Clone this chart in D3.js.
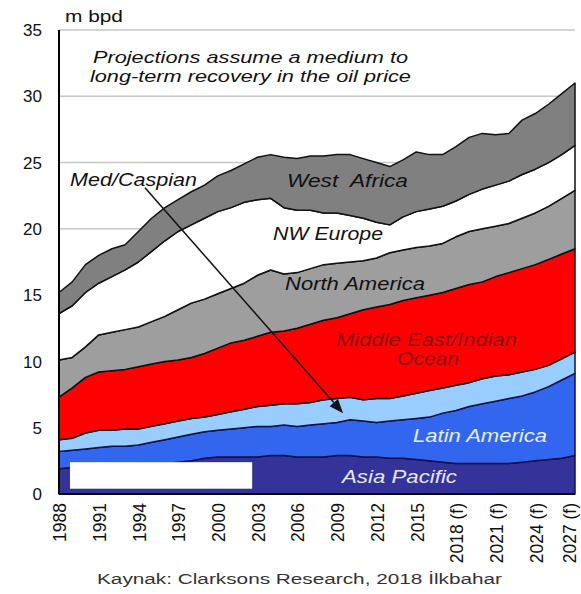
<!DOCTYPE html>
<html>
<head>
<meta charset="utf-8">
<script src="https://cdn.jsdelivr.net/npm/d3@7"></script>
<style>
  html, body { margin: 0; padding: 0; background: #fff; }
  svg { display: block; }
  text { font-family: "Liberation Sans", Arial, sans-serif; }
</style>
</head>
<body>
<svg id="chart" width="581" height="594"></svg>
<script>
// Seaborne oil production by region, million barrels per day (stacked, bottom to top)
const years = [1988,1989,1990,1991,1992,1993,1994,1995,1996,1997,
               1998,1999,2000,2001,2002,2003,2004,2005,2006,2007,
               2008,2009,2010,2011,2012,2013,2014,2015,2016,2017,
               2018,2019,2020,2021,2022,2023,2024,2025,2026,2027];

const asiaPacific  = [1.9,2.0,2.1,2.2,2.2,2.2,2.3,2.3,2.3,2.4, 2.5,2.7,2.8,2.8,2.8,2.8,2.9,2.9,2.8,2.8, 2.8,2.9,2.9,2.8,2.8,2.7,2.7,2.6,2.5,2.4, 2.3,2.3,2.3,2.3,2.3,2.4,2.5,2.6,2.7,2.9];
const latinAmerica = [1.3,1.3,1.3,1.3,1.4,1.4,1.4,1.6,1.8,1.9, 2.0,2.0,2.0,2.1,2.2,2.3,2.2,2.3,2.3,2.4, 2.5,2.5,2.7,2.7,2.6,2.8,2.9,3.1,3.3,3.7, 4.0,4.3,4.5,4.7,4.9,5.0,5.2,5.5,5.9,6.2];
const medCaspian   = [0.9,0.9,1.2,1.3,1.2,1.3,1.2,1.2,1.2,1.2, 1.2,1.1,1.2,1.3,1.4,1.5,1.6,1.6,1.7,1.7, 1.8,1.8,1.7,1.6,1.8,1.7,1.8,1.9,2.0,1.9, 1.9,1.8,1.9,1.9,1.8,1.8,1.7,1.6,1.6,1.6];
const middleEast   = [3.2,3.8,4.2,4.4,4.5,4.5,4.7,4.7,4.7,4.6, 4.6,4.8,5.0,5.2,5.2,5.3,5.5,5.5,5.7,5.9, 6.0,6.1,6.3,6.8,6.9,7.1,7.2,7.2,7.2,7.2, 7.3,7.4,7.3,7.5,7.7,7.8,7.9,8.0,7.9,7.8];
const northAmerica = [2.8,2.3,2.3,2.8,2.9,3.0,3.0,3.2,3.4,3.8, 4.1,4.1,4.1,4.1,4.3,4.6,4.7,4.3,4.2,4.2, 4.2,4.1,3.9,3.7,3.7,3.9,3.8,3.8,3.7,3.7, 3.9,4.0,4.0,3.8,3.7,3.8,3.9,4.0,4.2,4.4];
const nwEurope     = [3.5,3.9,4.1,3.9,4.2,4.5,4.9,5.3,5.7,5.9, 5.9,6.1,6.2,6.1,6.1,5.7,5.4,5.0,4.7,4.4, 3.9,3.8,3.5,3.2,2.7,2.1,2.5,2.7,2.8,2.8, 2.7,2.8,3.0,3.1,3.2,3.3,3.3,3.3,3.3,3.4];
const westAfrica   = [1.6,1.8,2.1,2.1,2.1,1.9,2.3,2.5,2.5,2.4, 2.5,2.5,2.7,2.8,2.9,3.2,3.3,3.8,3.9,4.1, 4.3,4.4,4.6,4.5,4.5,4.4,4.3,4.5,4.1,3.9, 4.1,4.3,4.2,3.8,3.6,4.1,4.2,4.4,4.6,4.7];

const seriesKeys   = ["asiaPacific","latinAmerica","medCaspian","middleEast","northAmerica","nwEurope","westAfrica"];
const seriesColors = ["#333399","#3366ee","#99ccff","#ff0000","#9e9e9e","#ffffff","#808080"];

const xTickYears  = [1988,1991,1994,1997,2000,2003,2006,2009,2012,2015,2018,2021,2024,2027];
const xTickLabels = ["1988","1991","1994","1997","2000","2003","2006","2009","2012","2015","2018 (f)","2021 (f)","2024 (f)","2027 (f)"];
const yTicks      = [0,5,10,15,20,25,30,35];

// Table for d3.stack
const table = years.map((yr, i) => ({
  year: yr,
  asiaPacific: asiaPacific[i], latinAmerica: latinAmerica[i], medCaspian: medCaspian[i],
  middleEast: middleEast[i], northAmerica: northAmerica[i], nwEurope: nwEurope[i], westAfrica: westAfrica[i]
}));

const svg = d3.select("#chart");
const width = 581;
const plotLeft = 59, plotRight = 575, plotTop = 30, plotBottom = 494;

const x = d3.scaleLinear().domain([1988, 2027]).range([plotLeft, plotRight]);
const y = d3.scaleLinear().domain([0, 35]).range([plotBottom, plotTop]);

// Gridlines
svg.append("g").selectAll("line").data(yTicks.filter(d => d > 0)).join("line")
  .attr("x1", plotLeft).attr("x2", plotRight)
  .attr("y1", d => y(d)).attr("y2", d => y(d))
  .attr("stroke", "#c6c6c6").attr("stroke-width", 1.5);

// Stacked areas
const stacked = d3.stack().keys(seriesKeys)(table);
const area = d3.area()
  .x(d => x(d.data.year))
  .y0(d => y(d[0]))
  .y1(d => y(d[1]));

svg.append("g").selectAll("path").data(stacked).join("path")
  .attr("d", area)
  .attr("fill", (d, i) => seriesColors[i])
  .attr("stroke", (d, i) => i < 3 ? "#10104a" : "#111")
  .attr("stroke-width", 1.5)
  .attr("stroke-linejoin", "round");

// Blank panel over the lower-left corner
svg.append("rect")
  .attr("x", x(1988.83)).attr("y", y(2.4))
  .attr("width", x(2002.6) - x(1988.83)).attr("height", y(0.4) - y(2.4))
  .attr("fill", "#ffffff");

// Axis lines
svg.append("line").attr("x1", plotLeft).attr("x2", plotLeft).attr("y1", y(35)).attr("y2", plotBottom)
  .attr("stroke", "#000").attr("stroke-width", 2);
svg.append("line").attr("x1", plotLeft).attr("x2", plotRight).attr("y1", plotBottom).attr("y2", plotBottom)
  .attr("stroke", "#000").attr("stroke-width", 2);

// Y tick labels
svg.append("g").selectAll("text").data(yTicks).join("text")
  .attr("x", 42).attr("y", d => y(d)).attr("dy", "0.36em")
  .attr("text-anchor", "end").attr("font-size", 17).attr("fill", "#111")
  .text(d => d);

// X tick labels (vertical); the last one is nudged so it stays inside the page
svg.append("g").selectAll("text").data(xTickYears).join("text")
  .attr("transform", d => `translate(${Math.min(x(d) + 1, width - 11)},503) rotate(-90)`)
  .attr("dy", "0.36em").attr("text-anchor", "end")
  .attr("font-size", 17.5).attr("fill", "#111")
  .text((d, i) => xTickLabels[i]);

// Text helper: wide-set labels fitted to a given width
function label(txt, xv, yv, w, opts = {}) {
  return svg.append("text")
    .attr("x", x(xv)).attr("y", y(yv))
    .attr("font-size", opts.size || 18)
    .attr("font-style", opts.italic === false ? "normal" : "italic")
    .attr("fill", opts.fill || "#111")
    .attr("textLength", w).attr("lengthAdjust", "spacingAndGlyphs")
    .style("white-space", "pre")
    .text(txt);
}

label("m bpd", 1988.45, 35.6, 58, { italic: false, size: 17 });
label("Projections assume a medium to", 1990.57, 32.5, 315, { size: 16.5 });
label("long-term recovery in the oil price", 1990.34, 31.1, 321, { size: 16.5 });

label("Med/Caspian", 1988.83, 23.2, 127);
label("West  Africa", 2005.23, 23.15, 121);
label("NW Europe", 2004.18, 19.15, 110);
label("North America", 2005.08, 15.38, 140);
label("Middle East/Indian", 2008.94, 11.16, 181, { fill: "#8e0a0a" });
label("Ocean", 2013.55, 9.73, 62, { fill: "#8e0a0a" });
label("Latin America", 2014.76, 3.92, 134, { fill: "#e4f0ff" });
label("Asia Pacific", 2009.39, 0.83, 115, { fill: "#e8e8ff" });

// Arrow from the Med/Caspian label to its band
const a0 = [x(1994.5), y(23.1)], a1 = [x(2009.47), y(6.1)];
const ang = Math.atan2(a1[1] - a0[1], a1[0] - a0[0]);
const headLen = 14, headW = 5.5;
const base = [a1[0] - headLen * Math.cos(ang), a1[1] - headLen * Math.sin(ang)];
svg.append("line")
  .attr("x1", a0[0]).attr("y1", a0[1]).attr("x2", base[0]).attr("y2", base[1])
  .attr("stroke", "#111").attr("stroke-width", 1.5);
svg.append("path")
  .attr("d", d3.line()([
    a1,
    [base[0] + headW * Math.sin(ang), base[1] - headW * Math.cos(ang)],
    [base[0] - headW * Math.sin(ang), base[1] + headW * Math.cos(ang)]
  ]) + "Z")
  .attr("fill", "#111");

// Source line
svg.append("text")
  .attr("x", 97).attr("y", 584)
  .attr("font-family", "'DejaVu Sans', Verdana, sans-serif")
  .attr("font-size", 14).attr("fill", "#333")
  .attr("textLength", 405).attr("lengthAdjust", "spacingAndGlyphs")
  .text("Kaynak: Clarksons Research, 2018 İlkbahar");
</script>
</body>
</html>
